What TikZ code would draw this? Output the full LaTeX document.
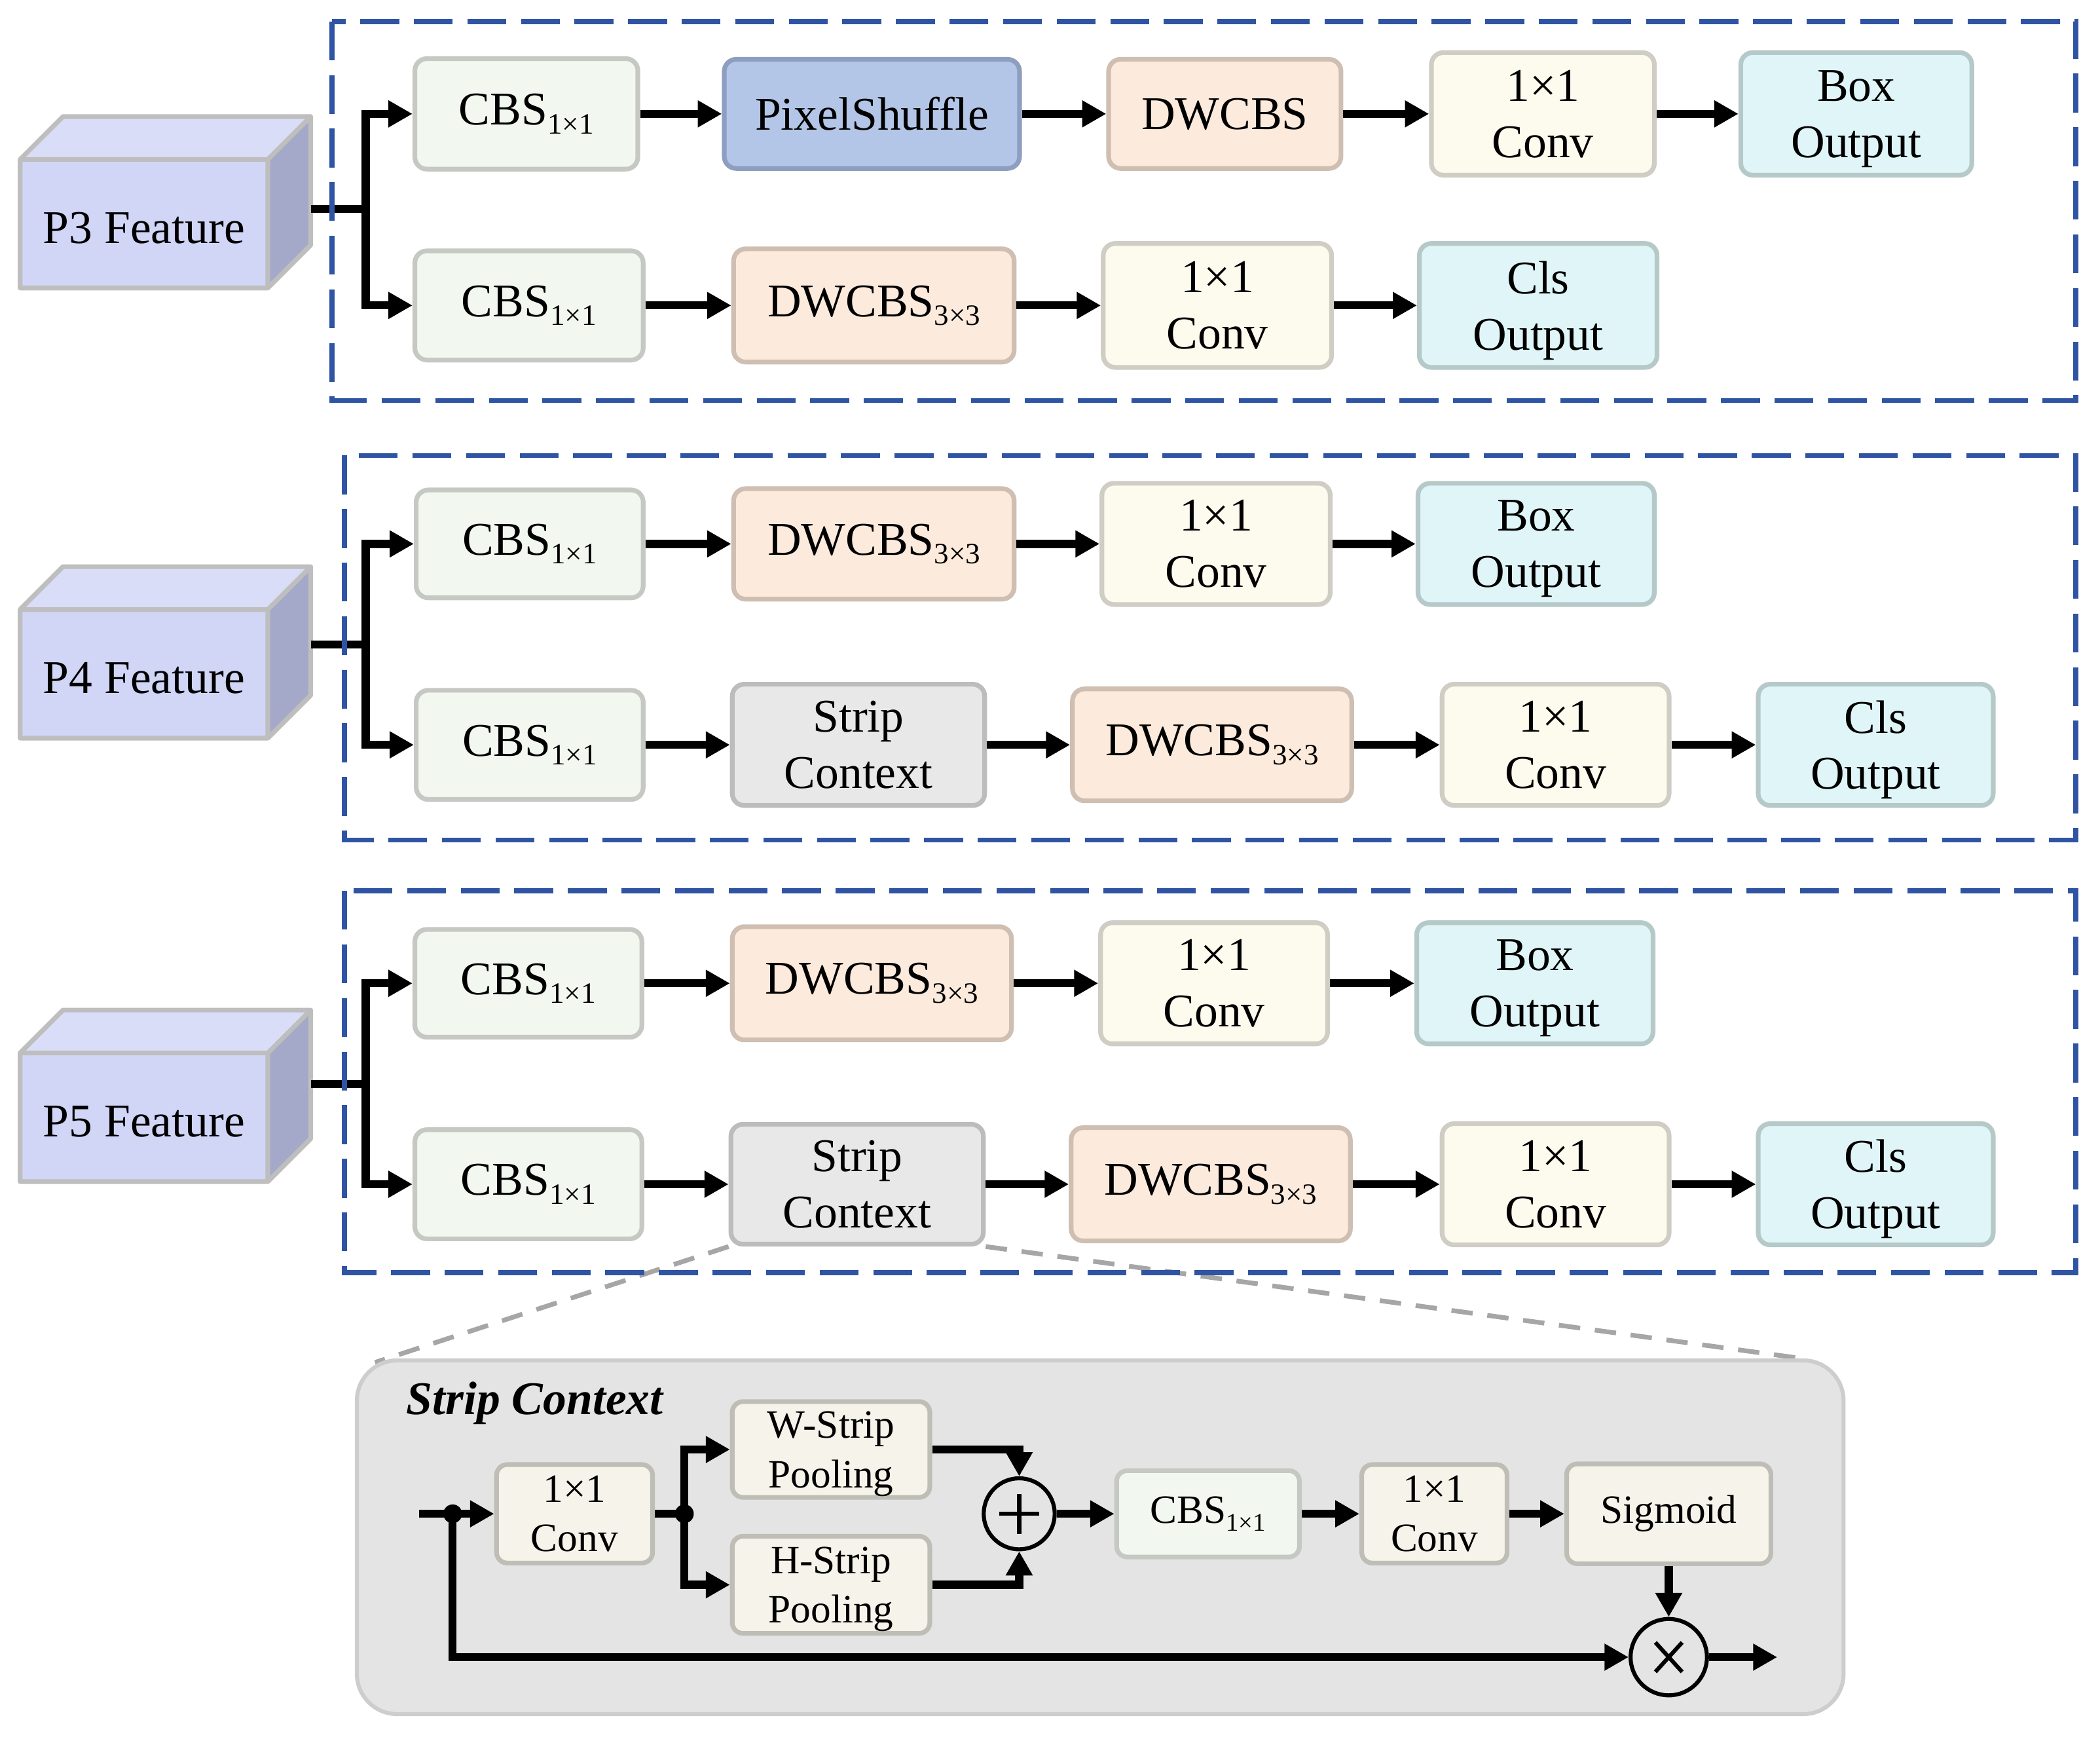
\documentclass[tikz,border=0pt]{standalone}
\usepackage{fontspec}
\setmainfont{Liberation Serif}
\usepackage{graphicx}
\usetikzlibrary{arrows.meta,calc,backgrounds}
\definecolor{dashblue}{HTML}{2F54A3}
\definecolor{cbsfill}{HTML}{F2F7EF}
\definecolor{cbsline}{HTML}{C6C9C3}
\definecolor{psfill}{HTML}{B4C6E7}
\definecolor{psline}{HTML}{8E9EC0}
\definecolor{dwfill}{HTML}{FCEBDD}
\definecolor{dwline}{HTML}{CFBFB2}
\definecolor{convfill}{HTML}{FDFAEE}
\definecolor{convline}{HTML}{CFCDC4}
\definecolor{outfill}{HTML}{E0F5F7}
\definecolor{outln}{HTML}{B6C9C9}
\definecolor{scfill}{HTML}{E8E8E8}
\definecolor{scline}{HTML}{BCBCBC}
\definecolor{panelfill}{HTML}{E4E4E4}
\definecolor{panelline}{HTML}{CDCDCD}
\definecolor{pbfill}{HTML}{F5F3EA}
\definecolor{pbline}{HTML}{BFBEB6}
\definecolor{cubefront}{HTML}{D1D5F6}
\definecolor{cubetop}{HTML}{DADDF8}
\definecolor{cubeside}{HTML}{A5A9C9}
\definecolor{cubeline}{HTML}{BEBEBE}
\definecolor{zoomgray}{HTML}{A6A6A6}
\newcommand{\bigf}{\fontsize{35}{42}\selectfont}
\newcommand{\smf}{\fontsize{30}{37}\selectfont}
\newcommand{\titf}{\fontsize{35}{42}\selectfont\bfseries\itshape}
\newcommand{\sbx}[1]{\raisebox{-0.19em}{\scalebox{0.63}{#1}}}
\newcommand{\featcube}[1]{%
  \fill[cubetop] (15,#1) -- (47,#1-32) -- (232,#1-32) -- (200,#1) -- cycle;
  \fill[cubeside] (200,#1) -- (232,#1-32) -- (232,#1+64) -- (200,#1+96) -- cycle;
  \fill[cubefront] (15,#1) rectangle (200,#1+96);
  \draw[cubeline, line width=3.5pt, line join=round] (15,#1) rectangle (200,#1+96)
     (15,#1) -- (47,#1-32) -- (232,#1-32) -- (232,#1+64) -- (200,#1+96)
     (200,#1) -- (232,#1-32);
}
\begin{document}
\begin{tikzpicture}[x=1pt,y=-1pt,
  blk/.style={rounded corners=9pt, line width=3.5pt, align=center, inner sep=0pt, font=\bigf},
  pblk/.style={rounded corners=8pt, line width=3.5pt, align=center, inner sep=0pt, font=\smf},
  sz/.style 2 args={minimum width=#1pt-3.5pt, minimum height=#2pt-3.5pt},
  cbs/.style={blk, fill=cbsfill, draw=cbsline},
  ps/.style={blk, fill=psfill, draw=psline},
  dw/.style={blk, fill=dwfill, draw=dwline},
  cv/.style={blk, fill=convfill, draw=convline},
  ot/.style={blk, fill=outfill, draw=outln},
  sc/.style={blk, fill=scfill, draw=scline},
  pb/.style={pblk, fill=pbfill, draw=pbline},
  pcbs/.style={pblk, fill=cbsfill, draw=cbsline},
  ln/.style={line width=6pt},
  arr/.style={line width=6pt, -{Triangle[length=18pt,width=19pt]}},
  grp/.style={draw=dashblue, line width=3.8pt, dash pattern=on 29pt off 11pt},
  circ/.style={circle, draw, line width=3pt, inner sep=0pt},
  dot/.style={circle, fill, inner sep=0pt, minimum size=14pt}
]
\useasboundingbox (0,0) rectangle (1568,1298);

% feature cubes
\featcube{119}
\node[font=\bigf] (p3lab) at (107.5,170) {P3 Feature};
\featcube{455}
\node[font=\bigf] (p4lab) at (107.5,506) {P4 Feature};
\featcube{786}
\node[font=\bigf] (p5lab) at (107.5,837) {P5 Feature};

% P3 rows
\node[cbs, sz={170}{86}] (a1) at (393,85) {CBS\sbx{1×1}};
\node[ps,  sz={224}{85}] (a2) at (651,85) {PixelShuffle};
\node[dw,  sz={177}{85}] (a3) at (914.5,85) {DWCBS};
\node[cv,  sz={170}{95}] (a4) at (1152,85) {1×1\\Conv};
\node[ot,  sz={176}{95}] (a5) at (1386,85) {Box\\\smash{Output}};
\node[cbs, sz={174}{85}] (b1) at (395,228) {CBS\sbx{1×1}};
\node[dw,  sz={213}{88}] (b2) at (652.5,228) {DWCBS\sbx{3×3}};
\node[cv,  sz={174}{96}] (b3) at (909,228) {1×1\\Conv};
\node[ot,  sz={181}{96}] (b4) at (1148.5,228) {Cls\\\smash{Output}};

% P4 rows
\node[cbs, sz={173}{84}] (c1) at (395.5,406) {CBS\sbx{1×1}};
\node[dw,  sz={213}{86}] (c2) at (652.5,406) {DWCBS\sbx{3×3}};
\node[cv,  sz={174}{94}] (c3) at (908,406) {1×1\\Conv};
\node[ot,  sz={180}{94}] (c4) at (1147,406) {Box\\\smash{Output}};
\node[cbs, sz={173}{85}] (d1) at (395.5,556) {CBS\sbx{1×1}};
\node[sc,  sz={192}{94}] (d2) at (641,556) {Strip\\Context};
\node[dw,  sz={212}{87}] (d3) at (905,556) {DWCBS\sbx{3×3}};
\node[cv,  sz={173}{94}] (d4) at (1161.5,556) {1×1\\Conv};
\node[ot,  sz={179}{94}] (d5) at (1400.5,556) {Cls\\\smash{Output}};

% P5 rows
\node[cbs, sz={173}{84}] (e1) at (394.5,734) {CBS\sbx{1×1}};
\node[dw,  sz={212}{88}] (e2) at (651,734) {DWCBS\sbx{3×3}};
\node[cv,  sz={173}{94}] (e3) at (906.5,734) {1×1\\Conv};
\node[ot,  sz={180}{94}] (e4) at (1146,734) {Box\\\smash{Output}};
\node[cbs, sz={173}{85}] (f1) at (394.5,884) {CBS\sbx{1×1}};
\node[sc,  sz={192}{93}] (f2) at (640,884) {Strip\\Context};
\node[dw,  sz={212}{88}] (f3) at (904,884) {DWCBS\sbx{3×3}};
\node[cv,  sz={173}{94}] (f4) at (1161.5,884) {1×1\\Conv};
\node[ot,  sz={179}{94}] (f5) at (1400.5,884) {Cls\\\smash{Output}};

% zoom lines and panel
\coordinate (zl) at (280,1017);
\coordinate (zr) at (1345,1014);
\begin{pgfonlayer}{background}
\draw[zoomgray, line width=3.5pt, dash pattern=on 16pt off 11pt] (f2.south west) -- (zl);
\draw[zoomgray, line width=3.5pt, dash pattern=on 16pt off 11pt] (f2.south east) -- (zr);
\node[draw=panelline, fill=panelfill, line width=3pt, rounded corners=30pt,
      minimum width=1110pt, minimum height=264pt] (panel) at (821.5,1147.5) {};
\end{pgfonlayer}

\node[font=\titf, anchor=base west] (sctitle) at (300,1056) {Strip Context};
\node[pb,   sz={120}{77}] (g1) at (429,1130) {1×1\\Conv};
\node[pb,   sz={151}{75}] (g2) at (620.5,1082) {W-Strip\\\smash{Pooling}};
\node[pb,   sz={151}{76}] (g3) at (620.5,1183) {H-Strip\\\smash{Pooling}};
\node[circ, minimum size=53pt] (plus) at (761,1130) {};
\node[pcbs, sz={140}{68}] (g4) at (902,1130) {CBS\sbx{1×1}};
\node[pb,   sz={112}{77}] (g5) at (1071,1130) {1×1\\Conv};
\node[pb,   sz={156}{78}] (g6) at (1246,1130) {Sigmoid};
\node[circ, minimum size=57pt] (times) at (1246,1237) {};
\draw[line width=3pt] ($(plus)+(-15,0)$) -- ($(plus)+(15,0)$)
                      ($(plus)+(0,-15)$) -- ($(plus)+(0,15)$);
\draw[line width=3pt] ($(times)+(-10,-11)$) -- ($(times)+(10,11)$)
                      ($(times)+(-10,11)$) -- ($(times)+(10,-11)$);

% P3 connectors
\coordinate (p3o) at (232,156);
\coordinate (p3j) at (273,156);
\draw[ln] (p3o) -- (p3j);
\draw[arr] (p3j) |- (a1.west);
\draw[arr] (p3j) |- (b1.west);
\draw[arr] (a1.east) -- (a1.east -| a2.west);
\draw[arr] (a2.east) -- (a2.east -| a3.west);
\draw[arr] (a3.east) -- (a3.east -| a4.west);
\draw[arr] (a4.east) -- (a4.east -| a5.west);
\draw[arr] (b1.east) -- (b1.east -| b2.west);
\draw[arr] (b2.east) -- (b2.east -| b3.west);
\draw[arr] (b3.east) -- (b3.east -| b4.west);

% P4 connectors
\coordinate (p4o) at (232,481);
\coordinate (p4j) at (273,481);
\draw[ln] (p4o) -- (p4j);
\draw[arr] (p4j) |- (c1.west);
\draw[arr] (p4j) |- (d1.west);
\draw[arr] (c1.east) -- (c1.east -| c2.west);
\draw[arr] (c2.east) -- (c2.east -| c3.west);
\draw[arr] (c3.east) -- (c3.east -| c4.west);
\draw[arr] (d1.east) -- (d1.east -| d2.west);
\draw[arr] (d2.east) -- (d2.east -| d3.west);
\draw[arr] (d3.east) -- (d3.east -| d4.west);
\draw[arr] (d4.east) -- (d4.east -| d5.west);

% P5 connectors
\coordinate (p5o) at (232,809);
\coordinate (p5j) at (273,809);
\draw[ln] (p5o) -- (p5j);
\draw[arr] (p5j) |- (e1.west);
\draw[arr] (p5j) |- (f1.west);
\draw[arr] (e1.east) -- (e1.east -| e2.west);
\draw[arr] (e2.east) -- (e2.east -| e3.west);
\draw[arr] (e3.east) -- (e3.east -| e4.west);
\draw[arr] (f1.east) -- (f1.east -| f2.west);
\draw[arr] (f2.east) -- (f2.east -| f3.west);
\draw[arr] (f3.east) -- (f3.east -| f4.west);
\draw[arr] (f4.east) -- (f4.east -| f5.west);

% panel connectors
\coordinate (sin) at (313,1130);
\coordinate (j1) at (338,1130);
\coordinate (j2) at (511,1130);
\coordinate (sout) at (1327,1237);
\draw[arr] (sin) -- (g1.west);
\draw[ln] (g1.east) -- (j2);
\draw[arr] (j2) |- (g2.west);
\draw[arr] (j2) |- (g3.west);
\draw[arr] (g2.east) -| (plus.north);
\draw[arr] (g3.east) -| (plus.south);
\draw[arr] (plus.east) -- (g4.west);
\draw[arr] (g4.east) -- (g5.west);
\draw[arr] (g5.east) -- (g6.west);
\draw[arr] (g6.south) -- (times.north);
\draw[arr] (j1) |- (times.west);
\draw[arr] (times.east) -- (sout);
\node[dot] (j1dot) at (j1) {};
\node[dot] (j2dot) at (j2) {};

% group boxes
\draw[grp] (248,16) rectangle (1550,299);
\draw[grp] (257,340) rectangle (1550,627);
\draw[grp] (257,665) rectangle (1550,950);
\end{tikzpicture}
\end{document}
